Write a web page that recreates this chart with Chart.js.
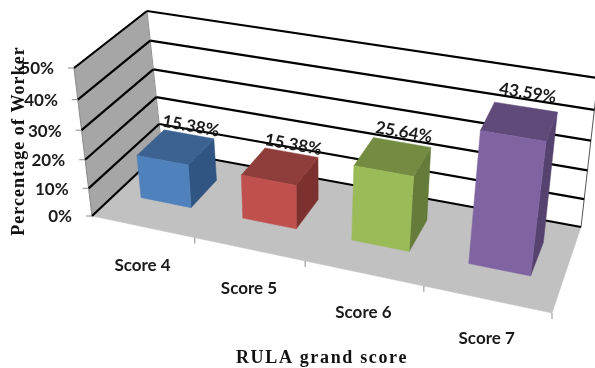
<!DOCTYPE html>
<html lang="en">
<head>
  <meta charset="UTF-8">
  <title>RULA grand score</title>
  <script src="https://cdn.jsdelivr.net/npm/chart.js"></script>
  <style>
    body { margin: 0; background: #fff; overflow: hidden; }
    canvas { display: block; }
  </style>
</head>
<body>
  <canvas id="rulaChart" width="595" height="368"></canvas>

  <script>
    const scoreLabels = ['Score 4', 'Score 5', 'Score 6', 'Score 7'];
    const workerPercent = [15.38, 15.38, 25.64, 43.59];
    const percentTicks = [0, 10, 20, 30, 40, 50];
    const valueLabels = ['15.38%', '15.38%', '25.64%', '43.59%'];

    const faceColors = [
      { front: '#4f81bd', top: '#3c6292', side: '#315582' },
      { front: '#c0504d', top: '#8f3d3a', side: '#7c312f' },
      { front: '#9bbb59', top: '#738c42', side: '#657b39' },
      { front: '#8064a2', top: '#5f4a7a', side: '#56426f' },
    ];

    // Corners of the floor and of the plane at the axis maximum: [front-left, front-right, back-right, back-left]
    const floorQuad = [[92, 216], [552, 313], [581, 227], [162, 150]];
    const topQuad = [[74, 68], [574, 152], [598, 78], [147, 11]];
    const barDepth = [0.33, 0.73];
    const labelFont = 'bold 17px Lato';

    // Perspective map from the unit square onto a quad
    function quadMap(q) {
      const [[x0, y0], [x1, y1], [x2, y2], [x3, y3]] = q;
      const dx1 = x1 - x2, dx2 = x3 - x2, sx = x0 - x1 + x2 - x3;
      const dy1 = y1 - y2, dy2 = y3 - y2, sy = y0 - y1 + y2 - y3;
      const den = dx1 * dy2 - dx2 * dy1;
      const g = (sx * dy2 - dx2 * sy) / den;
      const h = (dx1 * sy - sx * dy1) / den;
      return (u, d) => {
        const w = g * u + h * d + 1;
        return [
          ((x1 - x0 + g * x1) * u + (x3 - x0 + h * x3) * d + x0) / w,
          ((y1 - y0 + g * y1) * u + (y3 - y0 + h * y3) * d + y0) / w,
        ];
      };
    }

    const floorMap = quadMap(floorQuad);
    const topMap = quadMap(topQuad);

    // u: along the categories, d: into the chart, v: up the value axis (all 0..1)
    function project(u, d, v) {
      const a = floorMap(u, d), b = topMap(u, d);
      // heights stretch slightly towards the top of the box
      const t = 0.92 * v / (1 - 0.08 * v);
      return [a[0] + (b[0] - a[0]) * t, a[1] + (b[1] - a[1]) * t];
    }

    function poly(ctx, pts, fill) {
      ctx.beginPath();
      pts.forEach((p, i) => (i ? ctx.lineTo(p[0], p[1]) : ctx.moveTo(p[0], p[1])));
      ctx.closePath();
      ctx.fillStyle = fill;
      ctx.strokeStyle = fill;
      ctx.lineWidth = 0.5;
      ctx.fill();
      ctx.stroke();
    }

    function line(ctx, a, b, color, width) {
      ctx.beginPath();
      ctx.moveTo(a[0], a[1]);
      ctx.lineTo(b[0], b[1]);
      ctx.strokeStyle = color;
      ctx.lineWidth = width;
      ctx.stroke();
    }

    const box3dPlugin = {
      id: 'box3d',
      afterDatasetsDraw(chart) {
        const { ctx, chartArea: area, scales: { x, y } } = chart;
        const toU = (px) => (px - area.left) / area.width;
        const toV = (py) => (area.bottom - py) / area.height;
        ctx.save();

        // walls and floor
        poly(ctx, [project(0, 0, 0), project(0, 1, 0), project(0, 1, 1), project(0, 0, 1)], '#a6a6a6');
        poly(ctx, [project(0, 1, 0), project(1, 1, 0), project(1, 1, 1), project(0, 1, 1)], '#ffffff');
        line(ctx, project(0, 0, 0), project(0, 0, 1), '#8c8c8c', 1);
        line(ctx, project(0, 1, 0), project(0, 1, 1), '#8c8c8c', 1);
        line(ctx, project(1, 1, 0), project(1, 1, 1), '#555555', 1);
        poly(ctx, [project(0, 0, 0), project(1, 0, 0), project(1, 1, 0), project(0, 1, 0)], '#c1c1c1');

        // gridlines and value axis
        ctx.textBaseline = 'middle';
        percentTicks.forEach((t) => {
          const v = toV(y.getPixelForValue(t));
          const front = project(0, 0, v);
          line(ctx, front, project(0, 1, v), '#000000', 2.2);
          line(ctx, project(0, 1, v), project(1, 1, v), '#000000', 2.2);
          line(ctx, front, [front[0] - 6, front[1]], '#8c8c8c', 1);
          ctx.fillStyle = '#1a1a1a';
          ctx.font = labelFont;
          ctx.textAlign = 'right';
          ctx.fillText(t + '%', front[0] - 20, front[1] + 1);
        });

        // category axis
        scoreLabels.forEach((label, i) => {
          const mid = project(toU(x.getPixelForValue(i)), 0, 0);
          ctx.fillStyle = '#1a1a1a';
          ctx.font = labelFont;
          ctx.textAlign = 'center';
          ctx.fillText(label, mid[0], mid[1] + 39);
        });
        for (let i = 1; i <= scoreLabels.length; i++) {
          const p = project(i / scoreLabels.length, 0, 0);
          line(ctx, p, [p[0], p[1] + 6], '#8c8c8c', 1);
        }

        // bars, each one from its own Chart.js element
        chart.getDatasetMeta(0).data.forEach((bar, i) => {
          const u0 = toU(bar.x - bar.width / 2), u1 = toU(bar.x + bar.width / 2);
          const v = toV(bar.y);
          const [d0, d1] = barDepth;
          const c = faceColors[i];
          poly(ctx, [project(u1, d0, 0), project(u1, d1, 0), project(u1, d1, v), project(u1, d0, v)], c.side);
          poly(ctx, [project(u0, d0, v), project(u1, d0, v), project(u1, d1, v), project(u0, d1, v)], c.top);
          poly(ctx, [project(u0, d0, 0), project(u1, d0, 0), project(u1, d0, v), project(u0, d0, v)], c.front);

          // value label, tilted along the back edge of the bar top
          const a = project(u0, d1, v), b = project(u1, d1, v);
          const mid = project(toU(bar.x), d1, v);
          ctx.save();
          ctx.translate(mid[0] + 2, mid[1] - 4.7 - 10.7 * v);
          ctx.rotate(Math.atan2(b[1] - a[1], b[0] - a[0]));
          ctx.fillStyle = '#1a1a1a';
          ctx.font = labelFont;
          ctx.textAlign = 'center';
          ctx.fillText(valueLabels[i], 0, 0);
          ctx.restore();
        });

        // axis titles
        ctx.fillStyle = '#111111';
        ctx.font = 'bold 18px "Liberation Serif"';
        ctx.textAlign = 'center';
        ctx.letterSpacing = '1.65px';
        ctx.fillText('RULA grand score', 322, 358);
        ctx.letterSpacing = '1.05px';
        ctx.translate(19, 141);
        ctx.rotate(-Math.PI / 2);
        ctx.fillText('Percentage of Worker', 0, 0);
        ctx.restore();
      },
    };

    new Chart(document.getElementById('rulaChart'), {
      type: 'bar',
      data: {
        labels: scoreLabels,
        datasets: [{
          data: workerPercent,
          backgroundColor: 'transparent',
          barPercentage: 0.5,
          categoryPercentage: 1,
        }],
      },
      options: {
        responsive: false,
        animation: false,
        layout: { padding: 0 },
        plugins: { legend: { display: false }, tooltip: { enabled: false } },
        scales: {
          x: { display: false },
          y: { display: false, min: 0, max: 50, ticks: { stepSize: 10 } },
        },
      },
      plugins: [box3dPlugin],
    });
  </script>
</body>
</html>
